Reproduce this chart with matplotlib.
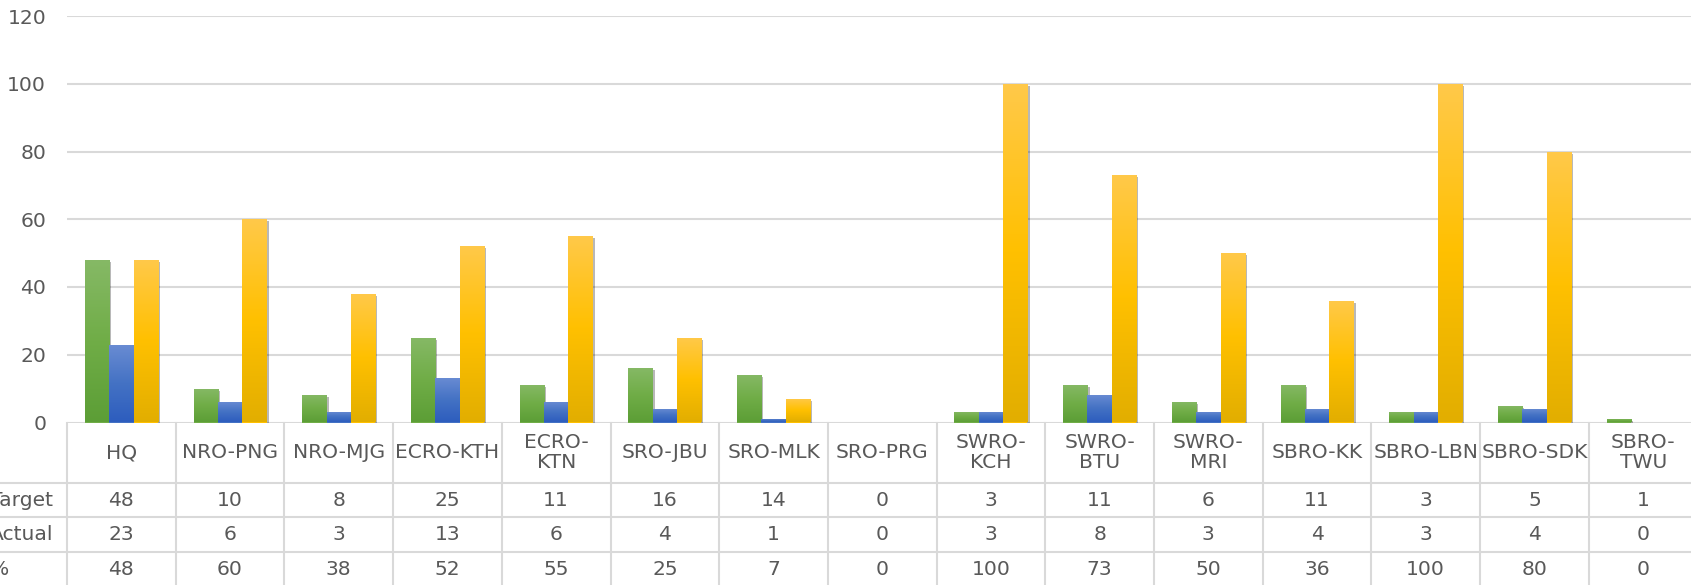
#!/usr/bin/env python3
"""Target vs actual by office, Excel-style clustered bars with a data table."""

import numpy as np
import matplotlib
matplotlib.use("Agg")
import matplotlib.pyplot as plt
import matplotlib.patheffects as pe
from matplotlib.colors import LinearSegmentedColormap

# data
offices = ["HQ", "NRO-PNG", "NRO-MJG", "ECRO-KTH", "ECRO-\nKTN", "SRO-JBU",
           "SRO-MLK", "SRO-PRG", "SWRO-\nKCH", "SWRO-\nBTU", "SWRO-\nMRI",
           "SBRO-KK", "SBRO-LBN", "SBRO-SDK", "SBRO-\nTWU"]
target = [48, 10, 8, 25, 11, 16, 14, 0, 3, 11, 6, 11, 3, 5, 1]
actual = [23, 6, 3, 13, 6, 4, 1, 0, 3, 8, 3, 4, 3, 4, 0]
pct = [48, 60, 38, 52, 55, 25, 7, 0, 100, 73, 50, 36, 100, 80, 0]
row_names = ["Target", "Actual", "%"]
y_ticks = [0, 20, 40, 60, 80, 100, 120]

# layout (pixels of the 1691x585 picture)
W, H = 1691, 585
X0 = 67            # left edge of plot area
COL = 108.7        # category width
Y_TOP = 16         # y of the 120 gridline
Y_ZERO = 422.5     # y of the zero line / table top
ROW_LINES = [482.7, 517.3, 551.7]
TEXT = "#595959"
GRID = "#D9D9D9"
FS = 14.6

gradients = {
    "Target": ["#5C9E36", "#70AD47", "#86B966"],
    "Actual": ["#2D5DBE", "#4472C4", "#6A8CD3"],
    "%": ["#E2AE00", "#FFC000", "#FFC94A"],
}

plt.rcParams["font.family"] = ["DejaVu Sans"]
fig = plt.figure(figsize=(W / 100, H / 100), dpi=100)

n = len(offices)
ax = fig.add_axes([X0 / W, (H - Y_ZERO) / H, n * COL / W, (Y_ZERO - Y_TOP) / H])
ax.set_xlim(-0.5, n - 0.5)
ax.set_ylim(0, 120)
for s in ax.spines.values():
    s.set_visible(False)
ax.set_yticks(y_ticks)
ax.set_xticks([])
ax.tick_params(axis="y", length=0, pad=15, labelsize=FS, labelcolor=TEXT)
ax.grid(True, axis="y", color=GRID, linewidth=1.5)
ax.set_axisbelow(True)

shadow = [pe.SimplePatchShadow(offset=(1.5, -1.5), shadow_rgbFace="k", alpha=0.28),
          pe.Normal()]

bw = 0.224
x = np.arange(n)
grad = np.linspace(0, 1, 256).reshape(-1, 1)
for k, (name, vals) in enumerate(zip(row_names, [target, actual, pct])):
    cmap = LinearSegmentedColormap.from_list(name, gradients[name])
    bars = ax.bar(x + (k - 1) * bw, vals, width=bw, color=gradients[name][1],
                  linewidth=0, zorder=2)
    for b in bars:
        h = b.get_height()
        if h <= 0:
            continue
        b.set_path_effects(shadow)
        im = ax.imshow(grad, cmap=cmap, origin="lower", aspect="auto",
                       extent=[b.get_x(), b.get_x() + b.get_width(), 0, h],
                       interpolation="bicubic", zorder=3)
        im.set_clip_path(b)

ax.set_xlim(-0.5, n - 0.5)
ax.set_ylim(0, 120)

# data table
tax = fig.add_axes([X0 / W, 0, n * COL / W, (H - Y_ZERO) / H])
tax.set_xlim(-0.5, n - 0.5)
tax.set_ylim(H, Y_ZERO)
tax.axis("off")

for i in range(n + 1):
    tax.plot([i - 0.5, i - 0.5], [Y_ZERO, H], color=GRID, lw=1.5, clip_on=False)
for yl in ROW_LINES:
    tax.plot([-2, n], [yl, yl], color=GRID, lw=1.5, clip_on=False)

cat_mid = (Y_ZERO + ROW_LINES[0]) / 2
row_mids = [(ROW_LINES[0] + ROW_LINES[1]) / 2, (ROW_LINES[1] + ROW_LINES[2]) / 2,
            (ROW_LINES[2] + H + 2) / 2]
for i, lab in enumerate(offices):
    tax.text(i, cat_mid, lab, ha="center", va="center", fontsize=FS,
             color=TEXT, linespacing=1.1)
    for vals, ym in zip([target, actual, pct], row_mids):
        tax.text(i, ym, str(vals[i]), ha="center", va="center", fontsize=FS, color=TEXT)

# row labels run off the left edge, as in the source
lab_x = -0.5 + (-10 - X0) / COL
for name, ym in zip(row_names, row_mids):
    tax.text(lab_x, ym, name, ha="left", va="center", fontsize=FS, color=TEXT, clip_on=False)

fig.savefig("out.png", dpi=100)
plt.close(fig)
